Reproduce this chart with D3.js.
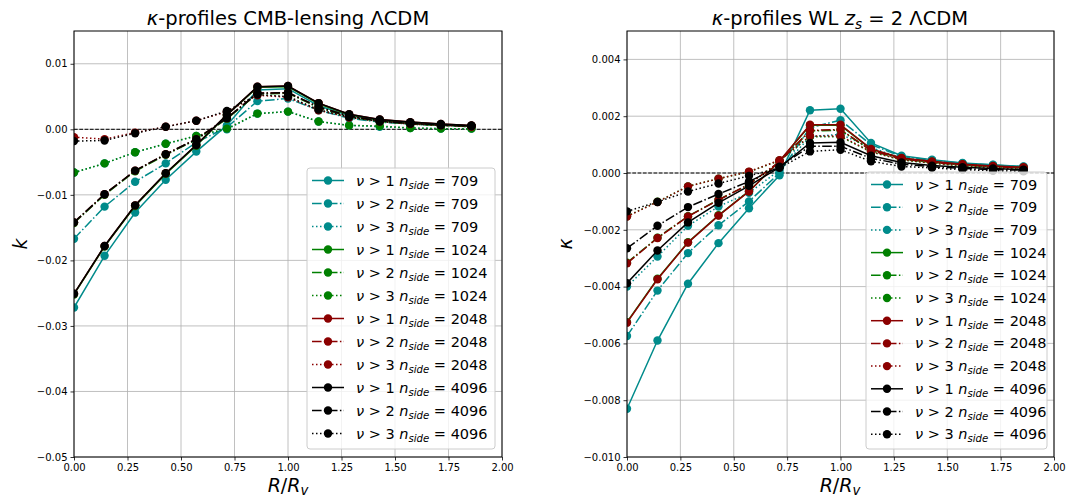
<!DOCTYPE html>
<html><head><meta charset="utf-8">
<script src="https://cdn.jsdelivr.net/npm/d3@7"></script>
<style>
body{margin:0;background:#fff}
text{font-family:"DejaVu Sans",sans-serif;fill:#000}
</style>
</head><body>
<svg id="fig" width="1068" height="499"></svg>
<script>
// Radial bins in units of the void radius
const radii = d3.range(14).map(i => i / 7);
const nsides = [709, 1024, 2048, 4096];
const thresholds = [1, 2, 3];
const colors = ["#008b8b", "#008000", "#8b0000", "#000000"];

// CMB-lensing convergence profiles, one row per threshold nu>1, nu>2, nu>3
const cmb709 = [
  [-0.0272, -0.0193, -0.0127, -0.0077, -0.0034, 0.0006, 0.0060, 0.0062, 0.0036, 0.0021, 0.0013, 0.0009, 0.0007, 0.0005],
  [-0.0167, -0.0118, -0.0080, -0.0052, -0.0020, 0.0003, 0.0043, 0.0047, 0.0029, 0.0017, 0.0011, 0.0008, 0.0006, 0.0004],
  [-0.0066, -0.0052, -0.0035, -0.0022, -0.0010, 0.0000, 0.0024, 0.0027, 0.0012, 0.0006, 0.0004, 0.0002, 0.0001, 0.0001]
];
const cmb1024 = [
  [-0.0252, -0.0179, -0.0117, -0.0068, -0.0025, 0.0022, 0.0064, 0.0065, 0.0039, 0.0022, 0.0014, 0.0010, 0.0007, 0.0005],
  [-0.0143, -0.0100, -0.0064, -0.0039, -0.0016, 0.0016, 0.0054, 0.0055, 0.0033, 0.0019, 0.0012, 0.0008, 0.0006, 0.0004],
  [-0.0066, -0.0052, -0.0035, -0.0022, -0.0010, 0.0001, 0.0024, 0.0027, 0.0012, 0.0006, 0.0005, 0.0002, 0.0001, 0.0001]
];
const cmb2048 = [
  [-0.0251, -0.0178, -0.0116, -0.0067, -0.0024, 0.0022, 0.0065, 0.0066, 0.0040, 0.0023, 0.0015, 0.0011, 0.0008, 0.0006],
  [-0.0142, -0.0099, -0.0063, -0.0038, -0.0015, 0.0017, 0.0055, 0.0056, 0.0034, 0.0020, 0.0013, 0.0009, 0.0007, 0.0005],
  [-0.0012, -0.0015, -0.0005, 0.0004, 0.0013, 0.0027, 0.0052, 0.0049, 0.0029, 0.0018, 0.0012, 0.0008, 0.0006, 0.0004]
];
const cmb4096 = [
  [-0.0251, -0.0178, -0.0116, -0.0067, -0.0024, 0.0022, 0.0065, 0.0066, 0.0040, 0.0023, 0.0015, 0.0011, 0.0008, 0.0006],
  [-0.0142, -0.0099, -0.0063, -0.0038, -0.0015, 0.0017, 0.0055, 0.0056, 0.0034, 0.0020, 0.0013, 0.0009, 0.0007, 0.0005],
  [-0.0018, -0.0017, -0.0006, 0.0004, 0.0013, 0.0028, 0.0053, 0.0050, 0.0030, 0.0019, 0.0012, 0.0009, 0.0006, 0.0005]
];

// Weak-lensing (z_s = 2) convergence profiles
const wl709 = [
  [-0.00830, -0.00590, -0.00390, -0.00247, -0.00124, -0.00008, 0.00221, 0.00226, 0.00106, 0.00061, 0.00047, 0.00035, 0.00029, 0.00023],
  [-0.00574, -0.00414, -0.00282, -0.00184, -0.00100, 0.00000, 0.00160, 0.00186, 0.00100, 0.00058, 0.00045, 0.00034, 0.00028, 0.00022],
  [-0.00400, -0.00294, -0.00186, -0.00118, -0.00070, 0.00010, 0.00128, 0.00136, 0.00090, 0.00052, 0.00040, 0.00030, 0.00024, 0.00020]
];
const wl1024 = [
  [-0.00525, -0.00372, -0.00244, -0.00149, -0.00064, 0.00041, 0.00168, 0.00168, 0.00084, 0.00052, 0.00040, 0.00030, 0.00024, 0.00019],
  [-0.00316, -0.00228, -0.00152, -0.00094, -0.00040, 0.00039, 0.00148, 0.00151, 0.00079, 0.00049, 0.00037, 0.00028, 0.00022, 0.00017],
  [-0.00152, -0.00101, -0.00047, -0.00020, 0.00004, 0.00044, 0.00128, 0.00128, 0.00074, 0.00046, 0.00034, 0.00025, 0.00019, 0.00015]
];
const wl2048 = [
  [-0.00527, -0.00374, -0.00245, -0.00150, -0.00065, 0.00042, 0.00170, 0.00170, 0.00085, 0.00053, 0.00041, 0.00031, 0.00025, 0.00020],
  [-0.00318, -0.00229, -0.00153, -0.00095, -0.00040, 0.00040, 0.00150, 0.00153, 0.00080, 0.00050, 0.00038, 0.00029, 0.00023, 0.00018],
  [-0.00153, -0.00102, -0.00047, -0.00020, 0.00005, 0.00045, 0.00130, 0.00130, 0.00075, 0.00047, 0.00035, 0.00026, 0.00020, 0.00016]
];
const wl4096 = [
  [-0.00388, -0.00273, -0.00174, -0.00105, -0.00045, 0.00020, 0.00106, 0.00108, 0.00061, 0.00037, 0.00026, 0.00020, 0.00016, 0.00012],
  [-0.00265, -0.00186, -0.00120, -0.00074, -0.00030, 0.00022, 0.00094, 0.00094, 0.00052, 0.00031, 0.00022, 0.00016, 0.00012, 0.00010],
  [-0.00135, -0.00102, -0.00065, -0.00037, -0.00010, 0.00018, 0.00076, 0.00082, 0.00041, 0.00023, 0.00018, 0.00012, 0.00008, 0.00006]
];

const xTicks = [0, 0.25, 0.5, 0.75, 1.0, 1.25, 1.5, 1.75, 2.0];
const cmbTicks = [0.01, 0.0, -0.01, -0.02, -0.03, -0.04, -0.05];
const wlTicks = [0.004, 0.002, 0.0, -0.002, -0.004, -0.006, -0.008, -0.010];

// line style per threshold: solid, dash-dot, dotted
const dashes = [null, "9.6,2.4,1.5,2.4", "1.5,2.5"];

const svg = d3.select("#fig");

function drawPanel(cfg) {
  const {left, top, width, height, yDomain, yTicks, yFormat, profiles, id} = cfg;
  const x = d3.scaleLinear().domain([0, 2]).range([left, left + width]);
  const y = d3.scaleLinear().domain(yDomain).range([top + height, top]);
  const g = svg.append("g");

  svg.append("clipPath").attr("id", id).append("rect")
    .attr("x", left).attr("y", top).attr("width", width).attr("height", height);

  // grid
  g.append("g").selectAll("line").data(xTicks).join("line")
    .attr("x1", d => x(d)).attr("x2", d => x(d)).attr("y1", top).attr("y2", top + height)
    .attr("stroke", "#b0b0b0").attr("stroke-width", 0.8);
  g.append("g").selectAll("line").data(yTicks).join("line")
    .attr("x1", left).attr("x2", left + width).attr("y1", d => y(d)).attr("y2", d => y(d))
    .attr("stroke", "#b0b0b0").attr("stroke-width", 0.8);

  // axes
  const xAxis = g.append("g").attr("transform", `translate(0,${top + height})`)
    .call(d3.axisBottom(x).tickValues(xTicks).tickFormat(d3.format(".2f")).tickSize(3.5).tickPadding(3));
  const yAxis = g.append("g").attr("transform", `translate(${left},0)`)
    .call(d3.axisLeft(y).tickValues(yTicks).tickFormat(d3.format(yFormat)).tickSize(3.5).tickPadding(3));
  [xAxis, yAxis].forEach(a => {
    a.select(".domain").remove();
    a.selectAll("text").style("font-family", "DejaVu Sans").style("font-size", "10px").attr("fill", "#000");
    a.selectAll("line").attr("stroke", "#000").attr("stroke-width", 0.8);
  });

  // zero reference
  g.append("line").attr("x1", left).attr("x2", left + width)
    .attr("y1", y(0)).attr("y2", y(0))
    .attr("stroke", "#000").attr("stroke-width", 1).attr("stroke-dasharray", "3.7,1.6");

  const plot = g.append("g").attr("clip-path", `url(#${id})`);
  const line = d3.line().x((d, i) => x(radii[i])).y(d => y(d));
  profiles.forEach((set, si) => {
    set.forEach((vals, ti) => {
      const sg = plot.append("g");
      sg.append("path").attr("d", line(vals)).attr("fill", "none")
        .attr("stroke", colors[si]).attr("stroke-width", 1.5)
        .attr("stroke-dasharray", dashes[ti]);
      sg.selectAll("circle").data(vals).join("circle")
        .attr("cx", (d, i) => x(radii[i])).attr("cy", d => y(d)).attr("r", 4.2)
        .attr("fill", colors[si]);
    });
  });

  // frame
  g.append("rect").attr("x", left).attr("y", top).attr("width", width).attr("height", height)
    .attr("fill", "none").attr("stroke", "#000").attr("stroke-width", 1);

  return {x, y, g};
}

function mathLabel(sel, parts) {
  parts.forEach(p => {
    const t = sel.append("tspan").text(p.t);
    if (p.i) t.style("font-style", "italic");
    if (p.sub) t.attr("baseline-shift", "-25%").style("font-size", "70%");
  });
}

function drawLegend(lx, ly, w, h, rowStep) {
  const lg = svg.append("g");
  lg.append("rect").attr("x", lx).attr("y", ly).attr("width", w).attr("height", h)
    .attr("rx", 3).attr("fill", "#fff").attr("fill-opacity", 0.8)
    .attr("stroke", "#cccccc").attr("stroke-width", 1);
  let row = 0;
  nsides.forEach((ns, si) => {
    thresholds.forEach((nu, ti) => {
      const cy = ly + 12.5 + row * rowStep;
      const x0 = lx + 5;
      lg.append("line").attr("x1", x0).attr("x2", x0 + 32).attr("y1", cy).attr("y2", cy)
        .attr("stroke", colors[si]).attr("stroke-width", 1.5).attr("stroke-dasharray", dashes[ti]);
      lg.append("circle").attr("cx", x0 + 16).attr("cy", cy).attr("r", 4.2).attr("fill", colors[si]);
      const t = lg.append("text").attr("x", x0 + 44).attr("y", cy + 5).style("font-size", "14.5px");
      mathLabel(t, [{t: "ν", i: true}, {t: " > " + nu + " "}, {t: "n", i: true}, {t: "side", i: true, sub: true}, {t: " = " + ns}]);
      row++;
    });
  });
}

const P1 = drawPanel({left: 74, top: 31, width: 428, height: 426, yDomain: [-0.05, 0.015],
  yTicks: cmbTicks, yFormat: ".2f", profiles: [cmb709, cmb1024, cmb2048, cmb4096], id: "clipL"});
const P2 = drawPanel({left: 627, top: 31, width: 427, height: 426, yDomain: [-0.010, 0.005],
  yTicks: wlTicks, yFormat: ".3f", profiles: [wl709, wl1024, wl2048, wl4096], id: "clipR"});

drawLegend(307, 168, 188, 281, 23);
drawLegend(866, 172, 181, 277, 22.7);

// titles
const t1 = svg.append("text").attr("x", 288).attr("y", 25).attr("text-anchor", "middle").style("font-size", "19.5px");
mathLabel(t1, [{t: "κ", i: true}, {t: "-profiles CMB-lensing ΛCDM"}]);
const t2 = svg.append("text").attr("x", 840).attr("y", 25).attr("text-anchor", "middle").style("font-size", "19.5px");
mathLabel(t2, [{t: "κ", i: true}, {t: "-profiles WL "}, {t: "z", i: true}, {t: "s", i: true, sub: true}, {t: " = 2 ΛCDM"}]);

// axis labels
[288, 840].forEach(cx => {
  const xl = svg.append("text").attr("x", cx).attr("y", 492).attr("text-anchor", "middle").style("font-size", "19px");
  mathLabel(xl, [{t: "R", i: true}, {t: "/"}, {t: "R", i: true}, {t: "v", i: true, sub: true}]);
});
svg.append("text").attr("transform", "translate(27,244) rotate(-90)").attr("text-anchor", "middle")
  .style("font-size", "19px").style("font-style", "italic").text("k");
svg.append("text").attr("transform", "translate(572,244) rotate(-90)").attr("text-anchor", "middle")
  .style("font-size", "19px").style("font-style", "italic").text("κ");
</script>
</body></html>
